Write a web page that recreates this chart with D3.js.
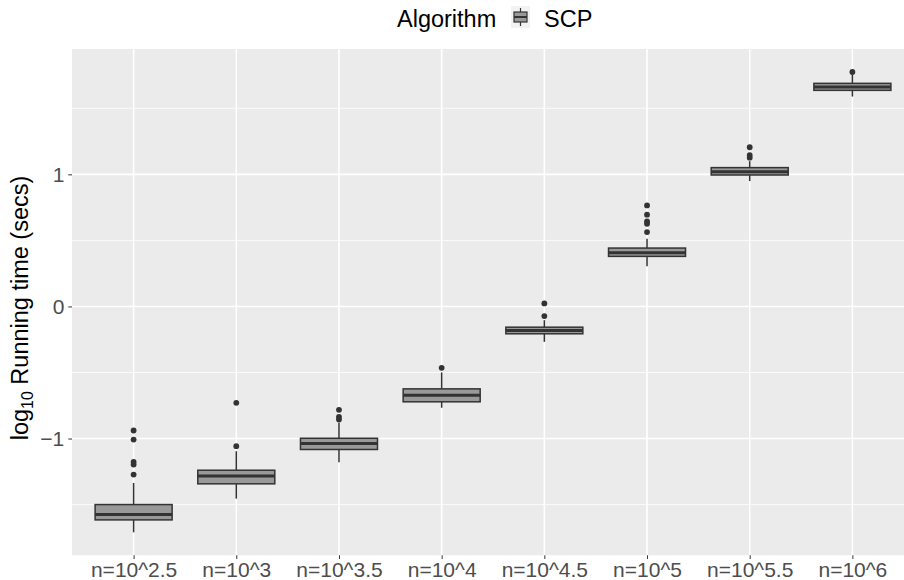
<!DOCTYPE html>
<html><head><meta charset="utf-8">
<script src="https://cdn.jsdelivr.net/npm/d3@7"></script>
<style>body{margin:0;background:#fff}svg{display:block;font-family:"Liberation Sans",Arial,sans-serif}</style>
</head><body>
<svg id="c" width="904" height="580"></svg>
<script>
const categories = ["n=10^2.5","n=10^3","n=10^3.5","n=10^4","n=10^4.5","n=10^5","n=10^5.5","n=10^6"];
const whiskerLow  = [-1.71, -1.455, -1.18, -0.767, -0.268, 0.305, 0.949, 1.589];
const q1          = [-1.616, -1.343, -1.083, -0.722, -0.207, 0.379, 0.995, 1.636];
const median      = [-1.576, -1.283, -1.038, -0.672, -0.182, 0.407, 1.02, 1.661];
const q3          = [-1.50, -1.24, -0.998, -0.624, -0.157, 0.442, 1.051, 1.689];
const whiskerHigh = [-1.336, -1.096, -0.881, -0.50, -0.104, 0.513, 1.10, 1.755];
const outliers = [
  [-0.939, -1.008, -1.177, -1.197, -1.273],
  [-0.73, -1.058],
  [-0.783, -0.836, -0.856],
  [-0.465],
  [0.023, -0.073],
  [0.765, 0.695, 0.644, 0.626, 0.563],
  [1.205, 1.146, 1.126],
  [1.775]
];
const yTicks = [-1, 0, 1];
const yMinor = [-1.5, -0.5, 0.5, 1.5];
const legendTitle = "Algorithm", legendLabel = "SCP";

const svg = d3.select("#c");
const P = {l:72, r:914, t:49, b:555.3};
const x = d3.scalePoint().domain(categories).range([P.l, P.r]).padding(0.6);
const y = d3.scaleLinear().domain([-1.884, 1.949]).range([P.b, P.t]);
const step = x.step(), bw = step*0.75;
const dark = "#333333", fill = "#999999";

svg.append("rect").attr("x",P.l).attr("y",P.t).attr("width",P.r-P.l).attr("height",P.b-P.t).attr("fill","#ebebeb");
const g = svg.append("g");
g.selectAll(".mn").data(yMinor).join("line").attr("x1",P.l).attr("x2",P.r)
  .attr("y1",d=>y(d)).attr("y2",d=>y(d)).attr("stroke","#fff").attr("stroke-width",0.8);
g.selectAll(".mj").data(yTicks).join("line").attr("x1",P.l).attr("x2",P.r)
  .attr("y1",d=>y(d)).attr("y2",d=>y(d)).attr("stroke","#fff").attr("stroke-width",1.6);
g.selectAll(".vx").data(categories).join("line").attr("y1",P.t).attr("y2",P.b)
  .attr("x1",d=>x(d)).attr("x2",d=>x(d)).attr("stroke","#fff").attr("stroke-width",1.6);

// boxes
categories.forEach((c,i)=>{
  const cx = x(c);
  const bg = svg.append("g");
  bg.append("line").attr("x1",cx).attr("x2",cx).attr("y1",y(q3[i])).attr("y2",y(whiskerHigh[i])).attr("stroke",dark).attr("stroke-width",1.5);
  bg.append("line").attr("x1",cx).attr("x2",cx).attr("y1",y(q1[i])).attr("y2",y(whiskerLow[i])).attr("stroke",dark).attr("stroke-width",1.5);
  bg.append("rect").attr("x",cx-bw/2).attr("width",bw).attr("y",y(q3[i])).attr("height",y(q1[i])-y(q3[i]))
    .attr("fill",fill).attr("stroke",dark).attr("stroke-width",1.5);
  bg.append("line").attr("x1",cx-bw/2).attr("x2",cx+bw/2).attr("y1",y(median[i])).attr("y2",y(median[i])).attr("stroke",dark).attr("stroke-width",3);
  bg.selectAll("circle").data(outliers[i]).join("circle").attr("cx",cx).attr("cy",d=>y(d)).attr("r",2.9).attr("fill",dark);
});

// axes
const ya = svg.append("g").attr("transform",`translate(${P.l},0)`)
  .call(d3.axisLeft(y).tickValues(yTicks).tickSize(3.7).tickPadding(4).tickFormat(d=>d<0?"\u2212"+Math.abs(d):d));
ya.select(".domain").remove();
ya.selectAll("line").attr("stroke",dark).attr("stroke-width",1);
ya.selectAll("text").attr("fill","#4d4d4d").style("font-size","21px").attr("font-family",null);
const xa = svg.append("g").attr("transform",`translate(0,${P.b})`)
  .call(d3.axisBottom(x).tickSize(3.7).tickPadding(3));
xa.select(".domain").remove();
xa.selectAll("line").attr("stroke",dark).attr("stroke-width",1);
xa.selectAll("text").attr("fill","#4d4d4d").style("font-size","21px").attr("font-family",null);

// y title
const yt = svg.append("text").attr("transform",`translate(28,308) rotate(-90)`)
  .attr("text-anchor","middle").style("font-size","23.5px").attr("fill","#000");
yt.append("tspan").text("log");
yt.append("tspan").text("10").style("font-size","16px").attr("dy",5);
yt.append("tspan").text(" Running time (secs)").attr("dy",-5);

// legend
const lg = svg.append("g");
lg.append("text").attr("x",397).attr("y",27).style("font-size","23.5px").text(legendTitle);
const kx = 511, ky = 6, kw = 19, kh = 22;
lg.append("rect").attr("x",kx).attr("y",ky).attr("width",kw).attr("height",kh).attr("fill","#f2f2f2");
lg.append("line").attr("x1",kx+kw/2).attr("x2",kx+kw/2).attr("y1",ky+2).attr("y2",ky+kh-2).attr("stroke",dark).attr("stroke-width",1.2);
lg.append("rect").attr("x",kx+3).attr("y",ky+6).attr("width",kw-6).attr("height",kh-12).attr("fill",fill).attr("stroke",dark).attr("stroke-width",1.2);
lg.append("line").attr("x1",kx+3).attr("x2",kx+kw-3).attr("y1",ky+kh/2).attr("y2",ky+kh/2).attr("stroke",dark).attr("stroke-width",2);
lg.append("text").attr("x",544).attr("y",27).style("font-size","23.5px").text(legendLabel);
</script>
</body></html>
